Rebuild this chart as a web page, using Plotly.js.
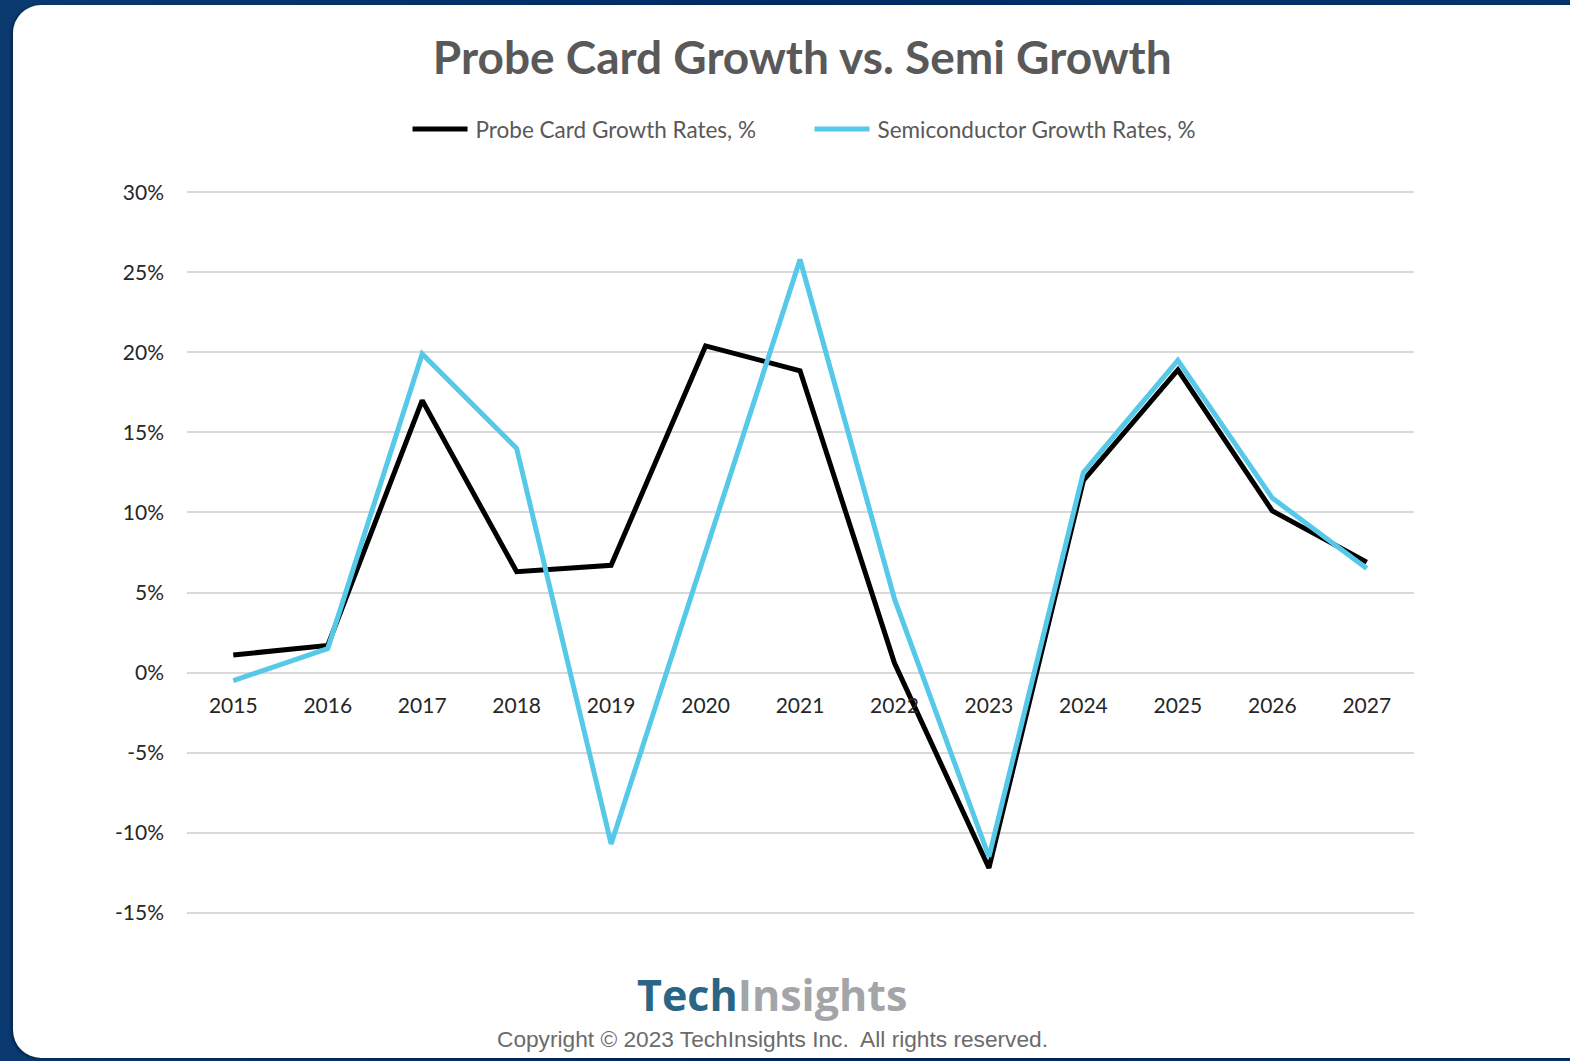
<!DOCTYPE html>
<html>
<head>
<meta charset="utf-8">
<script src="https://cdn.plot.ly/plotly-3.0.1.min.js"></script>
<style>
  html, body { margin: 0; padding: 0; width: 1570px; height: 1061px; overflow: hidden;
    background: linear-gradient(90deg, #0a3a70 0%, #002a64 50%, #04356c 100%); }
  #card { position: absolute; left: 13px; top: 5px; width: 1600px; height: 1053px;
    background: #fff; border-radius: 28px; box-shadow: -2px 1px 3px rgba(0,0,0,0.35); }
  #plot { position: absolute; left: 0; top: 0; width: 1570px; height: 1061px; }
</style>
</head>
<body>
<div id="card"></div>
<div id="plot"></div>
<script>
let years = ["2015", "2016", "2017", "2018", "2019", "2020", "2021", "2022", "2023", "2024", "2025", "2026", "2027"];
let probe_card = [1.1, 1.7, 17.0, 6.3, 6.7, 20.4, 18.85, 0.6, -12.2, 12.0, 18.9, 10.1, 6.9];
let semi = [-0.5, 1.5, 19.9, 14.0, -10.7, 7.5, 25.8, 4.6, -11.5, 12.5, 19.5, 10.9, 6.5];
let y_ticks = [-15, -10, -5, 0, 5, 10, 15, 20, 25, 30];
let y_ticktext = y_ticks.map((v) => v + "%");

let font_family = "Lato, 'Open Sans', sans-serif";

let trace_probe = {
  x: years,
  y: probe_card,
  mode: "lines",
  type: "scatter",
  name: "Probe Card Growth Rates, %",
  line: { color: "#000000", width: 5 },
};
let trace_semi = {
  x: years,
  y: semi,
  mode: "lines",
  type: "scatter",
  name: "Semiconductor Growth Rates, %",
  line: { color: "#56c9e9", width: 5 },
};

// pad the y range a bit so the 30% and -15% gridlines get drawn
let y_pad = 0.2;

var layout = {
  width: 1570,
  height: 1061,
  paper_bgcolor: "rgba(0,0,0,0)",
  plot_bgcolor: "rgba(0,0,0,0)",
  margin: { l: 187, r: 156, t: 189, b: 145 },
  font: { family: font_family, color: "#404040", size: 20 },
  title: {
    text: "<b>Probe Card Growth vs. Semi Growth</b>",
    font: { family: font_family, size: 46, color: "#595959" },
    x: 0.511,
    xref: "container",
    xanchor: "center",
    y: 0.945,
    yref: "container",
    yanchor: "middle",
  },
  showlegend: true,
  legend: {
    orientation: "h",
    x: 0.509,
    xanchor: "center",
    y: 1.082,
    yanchor: "middle",
    font: { size: 22.5, color: "#595959" },
    itemwidth: 56,
    entrywidth: 331,
    entrywidthmode: "pixels",
  },
  xaxis: {
    type: "category",
    range: [-0.49, 12.5],
    showgrid: false,
    zeroline: false,
    showline: false,
    ticks: "",
    anchor: "free",
    position: (0 - (-15 - y_pad)) / (45 + 2 * y_pad),
    ticklabelstandoff: 18,
    tickfont: { size: 21, color: "#262626" },
  },
  yaxis: {
    range: [-15 - y_pad, 30 + y_pad],
    tickvals: y_ticks,
    ticktext: y_ticktext,
    showgrid: true,
    gridcolor: "#d9d9d9",
    gridwidth: 2,
    zeroline: false,
    showline: false,
    ticks: "",
    ticklabelstandoff: 22,
    tickfont: { size: 21, color: "#262626" },
  },
  annotations: [
    {
      text: "<b><span style='color:#2a6585'>Tech</span><span style='color:#a3a5a8'>Insights</span></b>",
      xref: "paper",
      yref: "paper",
      x: 0.477,
      y: -0.108,
      xanchor: "center",
      yanchor: "middle",
      showarrow: false,
      font: { family: "'Open Sans', sans-serif", size: 43 },
    },
    {
      text: "Copyright \u00a9 2023 TechInsights Inc.  All rights reserved.",
      xref: "paper",
      yref: "paper",
      x: 0.477,
      y: -0.169,
      xanchor: "center",
      yanchor: "middle",
      showarrow: false,
      font: { family: "'Liberation Sans', Arial, sans-serif", size: 22.7, color: "#6b6b6b" },
    },
  ],
};

Plotly.newPlot("plot", [trace_probe, trace_semi], layout, { displayModeBar: false }).then(function () {
  // stretch the legend line samples to match the longer strokes in the original
  document.querySelectorAll(".legendlines path").forEach(function (p) {
    p.setAttribute("d", "M3,0h55");
  });
});
</script>
</body>
</html>
